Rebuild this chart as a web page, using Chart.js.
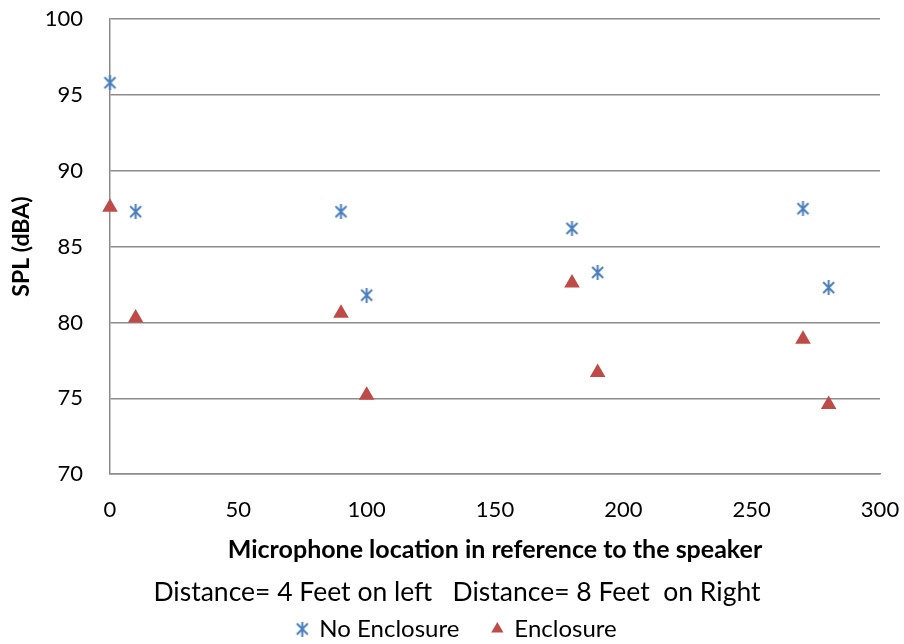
<!DOCTYPE html>
<html>
<head>
<meta charset="utf-8">
<script src="https://cdn.jsdelivr.net/npm/chart.js@4"></script>
<style>
  body { margin: 0; background: #fff; }
  #wrap { width: 904px; height: 644px; }
</style>
</head>
<body>
<div id="wrap"><canvas id="splChart" width="904" height="644"></canvas></div>
<script>
// microphone angle (x) and measured SPL (y)
const locations = [0, 10, 90, 100, 180, 190, 270, 280];
const noEnclosure = [95.8, 87.3, 87.3, 81.8, 86.2, 83.3, 87.5, 82.3];
const enclosure = [87.6, 80.3, 80.6, 75.2, 82.6, 76.7, 78.9, 74.6];
const seriesNames = ['No Enclosure', 'Enclosure'];

const BLUE = '#4a7ebb';
const RED = '#be4b48';
const GRID = '#8c8c8c';
const FONT = 'Lato, "Open Sans", sans-serif';

// excel style asterisk marker (X with a vertical bar)
function asteriskMarker(size) {
    const c = document.createElement('canvas');
    c.width = size; c.height = size;
    const g = c.getContext('2d');
    g.strokeStyle = BLUE;
    g.lineWidth = 2;
    const m = 2;
    g.beginPath();
    g.moveTo(m, m); g.lineTo(size - m, size - m);
    g.moveTo(size - m, m); g.lineTo(m, size - m);
    g.moveTo(size / 2, 0); g.lineTo(size / 2, size);
    g.stroke();
    return c;
}

// keep the plot box fixed: no extra room for half tick labels
function noEdgePadding(s) {
    s.paddingTop = 0; s.paddingBottom = 0;
    s.paddingLeft = 0; s.paddingRight = 0;
}

const toPoints = ys => locations.map((x, i) => ({ x: x, y: ys[i] }));
const star = asteriskMarker(15);

const ctx = document.getElementById('splChart').getContext('2d');
new Chart(ctx, {
    type: 'scatter',
    data: {
        datasets: [{
            label: seriesNames[0],
            data: toPoints(noEnclosure),
            pointStyle: star,
            backgroundColor: BLUE,
            borderColor: BLUE,
            clip: false,
        }, {
            label: seriesNames[1],
            data: toPoints(enclosure),
            pointStyle: 'triangle',
            pointRadius: 9,
            backgroundColor: RED,
            borderColor: RED,
            borderWidth: 0,
            clip: false,
        }]
    },
    options: {
        responsive: false,
        animation: false,
        // left padding shifts the centred bottom texts to where they sit in the original
        layout: { padding: { top: 19, right: 24, left: 34, bottom: 0 } },
        scales: {
            x: {
                min: 0, max: 300,
                afterFit: s => { noEdgePadding(s); s.height = 91; },
                ticks: { stepSize: 50, color: '#000', font: { family: FONT, size: 22 }, padding: 23 },
                grid: { display: false, drawTicks: false },
                border: { display: true, color: GRID, width: 1.5 },
                title: {
                    display: true,
                    text: 'Microphone location in reference to the speaker',
                    color: '#000',
                    font: { family: FONT, size: 25, weight: 'bold' },
                    padding: { top: 0, bottom: 0 }
                }
            },
            y: {
                min: 70, max: 100,
                afterFit: s => { noEdgePadding(s); s.width = 76; },
                ticks: { stepSize: 5, color: '#000', font: { family: FONT, size: 22 }, padding: 27 },
                grid: { color: GRID, lineWidth: 1.5, drawTicks: false },
                border: { display: true, color: GRID, width: 1.5 },
                title: {
                    display: true,
                    text: 'SPL (dBA)',
                    color: '#000',
                    font: { family: FONT, size: 23, weight: 'bold' },
                    padding: { top: -26, bottom: 0 }
                }
            }
        },
        plugins: {
            title: {
                display: true,
                position: 'bottom',
                weight: 500,
                text: 'Distance= 4 Feet on left   Distance= 8 Feet  on Right',
                color: '#000',
                font: { family: FONT, size: 26.5, weight: 'normal' },
                padding: { top: 11, bottom: -24 }
            },
            legend: {
                position: 'bottom',
                maxHeight: 60,
                labels: {
                    usePointStyle: true,
                    color: '#000',
                    font: { family: FONT, size: 24 },
                    boxWidth: 10,
                    boxHeight: 10,
                    padding: 33
                }
            },
            tooltip: { enabled: false }
        }
    }
});
</script>
</body>
</html>
